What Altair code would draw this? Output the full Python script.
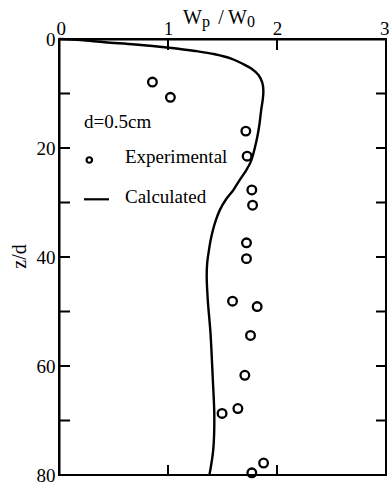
import altair as alt
import pandas as pd

# Calculated profile of Wp/W0 against depth z/d
calc_ratio = [0.00, 0.20, 0.42, 0.70, 1.01, 1.25, 1.43, 1.58, 1.68, 1.77, 1.83,
              1.865, 1.875, 1.87, 1.855, 1.84, 1.82, 1.79, 1.76, 1.72, 1.66,
              1.60, 1.53, 1.475, 1.44, 1.413, 1.39, 1.376, 1.36, 1.355, 1.365,
              1.39, 1.41, 1.425, 1.415, 1.38]
calc_depth = [0.0, 0.2, 0.6, 1.0, 1.6, 2.2, 2.8, 3.6, 4.5, 5.5, 6.6,
              8.0, 9.4, 11.0, 13.0, 15.5, 17.9, 20.5, 22.5, 24.0, 25.8,
              27.7, 29.5, 31.4, 33.2, 35.0, 37.0, 38.7, 41.0, 43.6, 47.9,
              54.0, 62.0, 69.3, 75.4, 80.0]

# Measured points
exp_ratio = [0.857, 1.022, 1.714, 1.726, 1.769, 1.776, 1.72, 1.72, 1.592,
             1.818, 1.757, 1.705, 1.641, 1.496, 1.877, 1.769]
exp_depth = [7.9, 10.7, 16.9, 21.5, 27.7, 30.5, 37.4, 40.3, 48.1,
             49.1, 54.4, 61.7, 67.8, 68.7, 77.8, 79.6]

x_label_values = [0, 1, 2, 3]
z_label_values = [0, 20, 40, 60, 80]
x_tick_values = [1, 2]
z_tick_values = [10, 20, 30, 40, 50, 60, 70]

legend_note = ["d=0.5cm"]
legend_labels = ["Experimental", "Calculated"]

W, H = 327, 436
FONT = "Liberation Serif"

calc = pd.DataFrame({"ratio": calc_ratio, "depth": calc_depth,
                     "order": list(range(len(calc_ratio)))})
exp = pd.DataFrame({"ratio": exp_ratio, "depth": exp_depth})
xt = pd.DataFrame({"ratio": x_tick_values})
zt = pd.DataFrame({"depth": z_tick_values})
one = pd.DataFrame({"k": [0]})

x_scale = alt.Scale(domain=[0, 3], nice=False, zero=False)
y_scale = alt.Scale(domain=[0, 80], nice=False, reverse=True)

x_axis = alt.Axis(orient="top", values=x_label_values, ticks=False, grid=False,
                  labelFont=FONT, labelFontSize=19, labelPadding=1,
                  labelColor="black", domainColor="black", domainWidth=2,
                  format="d", labelFlush=True, labelFlushOffset=3, title="")
y_axis = alt.Axis(orient="left", values=z_label_values, ticks=False, grid=False,
                  labelFont=FONT, labelFontSize=19, labelPadding=4,
                  labelColor="black", domainColor="black", domainWidth=2,
                  format="d", labelFlush=False,
                  title="z/d", titleFont=FONT, titleFontSize=20,
                  titleFontWeight="normal", titleColor="black",
                  titleAngle=270, titleAlign="center", titleBaseline="middle",
                  titleX=-40, titleY=217)

X = alt.X("ratio:Q", scale=x_scale, axis=x_axis)
Y = alt.Y("depth:Q", scale=y_scale, axis=y_axis)

line = alt.Chart(calc).mark_line(
    color="black", strokeWidth=2.4, interpolate="catmull-rom"
).encode(x=X, y=Y, order="order:Q")

points = alt.Chart(exp).mark_point(
    shape="circle", filled=False, color="black", strokeWidth=2.3, size=75,
    opacity=1
).encode(x=X, y=Y)

# Inward tick marks on all four sides
tick_style = dict(color="black", strokeWidth=2)
top_ticks = alt.Chart(xt).mark_rule(**tick_style).encode(
    x=X, y=alt.value(0), y2=alt.value(11))
bottom_ticks = alt.Chart(xt).mark_rule(**tick_style).encode(
    x=X, y=alt.value(H - 10), y2=alt.value(H))
left_ticks = alt.Chart(zt).mark_rule(**tick_style).encode(
    y=Y, x=alt.value(0), x2=alt.value(11))
right_ticks = alt.Chart(zt).mark_rule(**tick_style).encode(
    y=Y, x=alt.value(W - 10), x2=alt.value(W))


def text_piece(txt, x, y, size, align="left"):
    return alt.Chart(pd.DataFrame({"t": [txt]})).mark_text(
        font=FONT, fontSize=size, color="black", align=align,
        baseline="alphabetic"
    ).encode(text="t:N", x=alt.value(x), y=alt.value(y))


# Top title  W_p / W_0
title_layers = [
    text_piece("W", 124, -15.5, 20),
    text_piece("p", 143, -12.5, 16),
    text_piece("/", 162, -15.5, 20, align="center"),
    text_piece("W", 169, -15.5, 20),
    text_piece("0", 188, -12.5, 16),
]

# Legend block
note = text_piece(legend_note[0], 25, 89.3, 19)
lab_exp = text_piece(legend_labels[0], 66, 123.7, 19)
lab_calc = text_piece(legend_labels[1], 66, 163.7, 19)
sym_exp = alt.Chart(one).mark_point(
    shape="circle", filled=False, color="black", strokeWidth=2.2, size=30,
    opacity=1
).encode(x=alt.value(30.3), y=alt.value(121))
sym_calc = alt.Chart(one).mark_rule(color="black", strokeWidth=2.2).encode(
    x=alt.value(25), x2=alt.value(50), y=alt.value(160.3))

chart = alt.layer(
    line, points, top_ticks, bottom_ticks, left_ticks, right_ticks,
    *title_layers, note, lab_exp, lab_calc, sym_exp, sym_calc
).properties(
    width=W, height=H,
    autosize=alt.AutoSizeParams(type="none"),
    padding={"left": 59, "top": 39, "right": 3, "bottom": 15},
    background="white",
).configure_view(
    stroke="black", strokeWidth=2
)

chart.save("out.html", embed_options={"renderer": "svg", "actions": False})
